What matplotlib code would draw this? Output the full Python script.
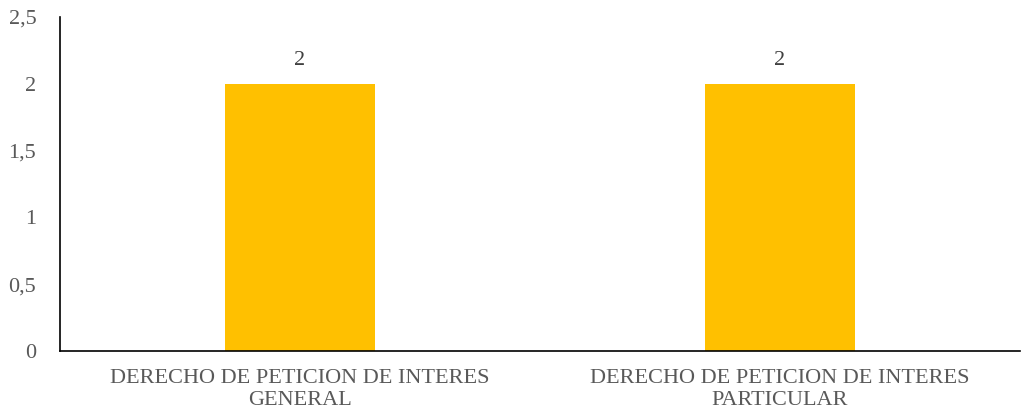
import matplotlib
matplotlib.use("Agg")
import matplotlib.pyplot as plt

categories = ["DERECHO DE PETICION DE INTERES\nGENERAL",
              "DERECHO DE PETICION DE INTERES\nPARTICULAR"]
values = [2, 2]
yticks = [0, 0.5, 1, 1.5, 2, 2.5]
ytick_labels = ["0", "0,5", "1", "1,5", "2", "2,5"]

plt.rcParams['font.family'] = ['Liberation Serif', 'DejaVu Serif']

fig = plt.figure(figsize=(10.25, 4.18), dpi=100)
ax = fig.add_axes([0.0585, 0.1603, 0.9365, 0.799])

x = range(len(categories))
bars = ax.bar(x, values, width=0.3125, color="#FFC000")
for b, v in zip(bars, values):
    ax.text(b.get_x() + b.get_width() / 2, v + 0.1, str(v),
            ha="center", va="bottom", fontsize=16, color="#404040")

ax.set_xlim(-0.5, 1.5)
ax.set_ylim(0, 2.5)
ax.set_xticks(list(x))
ax.set_xticklabels(categories, fontsize=16, color="#595959", linespacing=1.2)
ax.set_yticks(yticks)
ax.set_yticklabels(ytick_labels, fontsize=16, color="#595959")
ax.tick_params(axis="both", length=0)
ax.tick_params(axis="y", pad=17)
ax.tick_params(axis="x", pad=13)
for s in ["top", "right"]:
    ax.spines[s].set_visible(False)
ax.spines["left"].set_color("black")
ax.spines["bottom"].set_color("black")
ax.spines["left"].set_linewidth(1.2)
ax.spines["bottom"].set_linewidth(1.2)

fig.savefig("out.png", dpi=100)
